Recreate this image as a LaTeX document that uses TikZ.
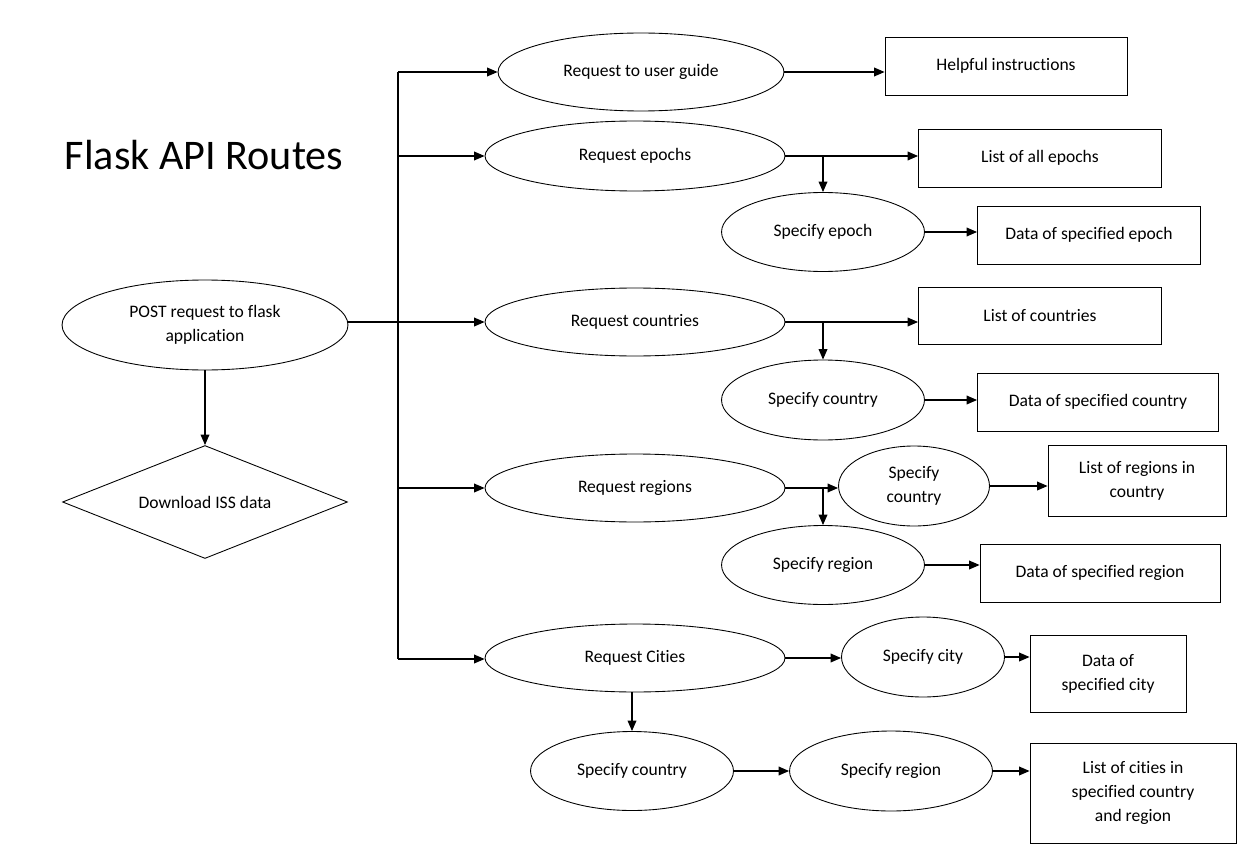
\documentclass[tikz,border=0pt]{standalone}
\usepackage{fontspec}
\setmainfont{Carlito}[Ligatures=NoCommon]
\usetikzlibrary{shapes.geometric,arrows.meta}

\begin{document}
\begin{tikzpicture}[x=0.02cm,y=-0.02cm,line width=0.7pt,
    >={Triangle[length=6pt,width=5pt]},
    every node/.style={font=\fontsize{10}{13.6}\selectfont, align=center, inner sep=0pt, line width=0.5pt},
    oval/.style 2 args={ellipse, draw, minimum width=#1, minimum height=#2},
    box/.style 2 args={rectangle, draw, minimum width=#1, minimum height=#2}]
  \useasboundingbox (0,0) rectangle (1250,868);
  \node[font=\fontsize{24}{28}\selectfont] (title) at (204,155) {Flask API Routes};

  % start of the app
  \node[oval={5.72cm}{1.8cm}] (P) at (205,325) {POST request to flask\\application};
  \node[diamond, draw, aspect=2.5, minimum width=5.7cm, minimum height=2.26cm] (D) at (205,502) {Download ISS data};

  % routes
  \node[oval={5.72cm}{1.56cm}] (U) at (641,72) {Request to user guide};
  \node[box={4.84cm}{1.16cm}] (H) at (1006,66) {Helpful instructions};
  \node[oval={6cm}{1.4cm}] (E) at (635,156) {Request epochs};
  \node[box={4.86cm}{1.16cm}] (LE) at (1040,158) {List of all epochs};
  \node[oval={4.06cm}{1.58cm}] (SE) at (823,232) {Specify epoch};
  \node[box={4.46cm}{1.16cm}] (DE) at (1089,235) {Data of specified epoch};
  \node[oval={6cm}{1.36cm}] (C) at (635,322) {Request countries};
  \node[box={4.86cm}{1.14cm}] (LC) at (1040,316) {List of countries};
  \node[oval={4.06cm}{1.6cm}] (SC) at (823,400) {Specify country};
  \node[box={4.82cm}{1.16cm}] (DC) at (1098,402) {Data of specified country};
  \node[oval={6cm}{1.36cm}] (R) at (635,488) {Request regions};
  \node[oval={3.02cm}{1.6cm}] (RC) at (914,486) {Specify\\country};
  \node[box={3.56cm}{1.42cm}] (LR) at (1137,481) {List of regions in\\country};
  \node[oval={4.06cm}{1.58cm}] (SR) at (823,565) {Specify region};
  \node[box={4.8cm}{1.16cm}] (DR) at (1100,573) {Data of specified region};
  \node[oval={6cm}{1.36cm}] (T) at (635,658) {Request Cities};
  \node[oval={3.26cm}{1.6cm}] (TC) at (923,657) {Specify city};
  \node[box={3.12cm}{1.54cm}] (TD) at (1108,674) {Data of\\specified city};
  \node[oval={4.06cm}{1.58cm}] (SCT) at (632,771) {Specify country};
  \node[oval={4.06cm}{1.6cm}] (SRT) at (891,771) {Specify region};
  \node[box={4.12cm}{2cm}] (LT) at (1133,793) {List of cities in\\specified country\\and region};

  % trunk
  \coordinate (t1) at (398,72);
  \coordinate (t5) at (398,659);
  \draw (t1) -- (t5);
  \draw[->] (P) -- (D);
  \draw[->] (P.east |- C) -- (C.west);
  \draw[->] (t1) -- (U.west);
  \draw[->] (t1 |- E) -- (E.west);
  \draw[->] (t1 |- R) -- (R.west);
  \draw[->] (t5) -- (t5 -| T.west);

  % branches
  \draw[->] (U.east) -- (U.east -| H.west);
  \draw[->] (E.east) -- (E.east -| LE.west);
  \draw[->] (E.east -| SE.north) -- (SE.north);
  \draw[->] (SE.east) -- (SE.east -| DE.west);
  \draw[->] (C.east) -- (C.east -| LC.west);
  \draw[->] (C.east -| SC.north) -- (SC.north);
  \draw[->] (SC.east) -- (SC.east -| DC.west);
  \draw[->] (R.east) -- (R.east -| RC.west);
  \draw[->] (R.east -| SR.north) -- (SR.north);
  \draw[->] (RC.east) -- (RC.east -| LR.west);
  \draw[->] (SR.east) -- (SR.east -| DR.west);
  \draw[->] (T.east) -- (T.east -| TC.west);
  \draw[->] (TC.east) -- (TC.east -| TD.west);
  \draw[->] (T.south -| SCT.north) -- (SCT.north);
  \draw[->] (SCT.east) -- (SRT.west);
  \draw[->] (SRT.east) -- (SRT.east -| LT.west);
\end{tikzpicture}
\end{document}
